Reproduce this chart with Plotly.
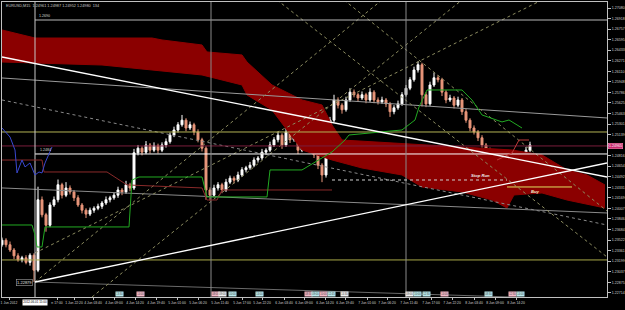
import plotly.graph_objects as go

# ---------------- data ----------------
bar_x = list(range(0, 529, 4))
open_first = 1.2345
close = [1.2352, 1.2345, 1.2337, 1.2328, 1.2322, 1.2325, 1.2318, 1.2329, 1.2306, 1.2414,
         1.2391, 1.2375, 1.2406, 1.2414, 1.2437, 1.2421, 1.2432, 1.2426, 1.2417, 1.2406,
         1.2398, 1.2392, 1.2398, 1.2401, 1.2404, 1.2409, 1.2414, 1.2417, 1.2421, 1.2429,
         1.2426, 1.2437, 1.2432, 1.2486, 1.2493, 1.2487, 1.2498, 1.2490, 1.2497, 1.2490,
         1.2498, 1.2503, 1.2513, 1.2521, 1.2529, 1.2536, 1.2524, 1.2529, 1.2518, 1.2506,
         1.2493, 1.2429, 1.2421, 1.2432, 1.2437, 1.2429, 1.2441, 1.2447, 1.2444, 1.2452,
         1.2460, 1.2463, 1.2467, 1.2475, 1.2478, 1.2487, 1.2490, 1.2498, 1.2506, 1.2513,
         1.2498, 1.2518, 1.2506, 1.2513, 1.2490, 1.2498, 1.2506, 1.2493, 1.2483, 1.2467,
         1.2452, 1.2490, 1.2536, 1.2567, 1.2559, 1.2552, 1.2567, 1.2579, 1.2575, 1.2570,
         1.2575, 1.2567, 1.2579, 1.2567, 1.2564, 1.2567, 1.2561, 1.2549, 1.2555, 1.2561,
         1.2575, 1.2585, 1.2598, 1.2613, 1.2621, 1.2575, 1.2561, 1.2590, 1.2601, 1.2598,
         1.2579, 1.2567, 1.2570, 1.2559, 1.2567, 1.2549, 1.2536, 1.2524, 1.2518, 1.2509,
         1.2498, 1.2490, 1.2475, 1.2478, 1.2463, 1.2472, 1.2460, 1.2475, 1.2457, 1.2463,
         1.2475, 1.2490, 1.2498]
wick_up_pips = [4,3,5,3,4,3,4,3,3,20, 5,3,4,5,8,3,9,4,3,4, 3,3,4,3,4,3,5,3,4,5,
                3,6,3,6,5,3,6,3,5,3, 4,5,4,5,4,8,3,5,3,4, 3,3,4,5,4,3,5,4,3,5,
                4,3,5,4,3,5,3,5,4,5, 3,6,3,5,3,4,5,3,3,4, 3,4,5,8,4,3,5,6,4,3,
                5,3,6,3,4,5,3,3,4,5, 4,5,4,5,5,3,4,5,8,4, 3,3,5,3,5,3,4,3,4,3,
                4,3,4,5,3,5,3,6,3,5, 6,5,5]
wick_dn_pips = [3,4,3,5,3,4,3,5,18,3, 4,10,3,3,4,5,3,4,5,3, 5,6,3,4,3,4,3,4,3,4,
                5,3,5,3,4,5,3,5,3,5, 3,4,3,3,4,3,5,3,5,4, 5,15,8,3,4,5,3,3,5,3,
                3,4,3,3,4,3,4,3,3,4, 6,3,5,3,6,3,3,5,5,6, 11,4,3,3,5,6,3,3,4,5,
                3,5,3,5,4,3,5,8,4,3, 3,3,3,3,4,18,5,3,3,4, 6,5,3,5,3,5,4,5,4,5,
                4,6,5,4,6,3,6,3,9,3, 3,3,3]

# Ichimoku cloud edges
cloud_top_x = [0, 33, 150, 160, 200, 205, 240, 245, 270, 300, 320, 330, 340, 420, 510, 540, 565, 585, 603]
cloud_top_y = [1.26743, 1.26620, 1.26620, 1.26590, 1.26513, 1.26406, 1.26360, 1.26252, 1.25900, 1.25670,
               1.25593, 1.25287, 1.25056, 1.24980, 1.24903, 1.24827, 1.24597, 1.24520, 1.24367]
cloud_bot_x = [0, 100, 200, 240, 245, 270, 300, 330, 360, 400, 420, 460, 490, 505, 512, 540, 565, 603]
cloud_bot_y = [1.26252, 1.26206, 1.26053, 1.25900, 1.25746, 1.25516, 1.24903, 1.24750, 1.24627, 1.24520,
               1.24336, 1.24260, 1.24136, 1.24014, 1.24213, 1.24244, 1.24136, 1.24014]

kijun_x = [0, 30, 33, 35, 40, 43, 127, 130, 137, 200, 205, 265, 268, 300, 330, 343, 347, 400, 413, 417,
           425, 460, 470, 480, 500, 507, 520]
kijun_y = [1.23753, 1.23753, 1.23600, 1.23416, 1.23416, 1.23723, 1.23723, 1.24443, 1.24489, 1.24489,
           1.24183, 1.24183, 1.24597, 1.24597, 1.24873, 1.25056, 1.25133, 1.25210, 1.25363, 1.25562,
           1.25823, 1.25823, 1.25670, 1.25440, 1.25333, 1.25363, 1.25240]

span_line_x = [0, 40, 42, 105, 125, 200, 205, 215, 220, 330]
span_line_y = [1.24749, 1.24749, 1.24566, 1.24566, 1.24367, 1.24321, 1.24136, 1.24136, 1.24290, 1.24290]

tenkan_x = [495, 510, 517, 527]
tenkan_y = [1.24749, 1.24857, 1.25056, 1.25056]

chikou_x = [0, 8, 13, 15, 20, 23, 28, 33, 37, 40, 43, 47, 50]
chikou_y = [1.25240, 1.25102, 1.24903, 1.24551, 1.24749, 1.24643, 1.24704, 1.24520, 1.24566, 1.24551,
            1.24704, 1.24857, 1.24949]

# horizontal levels: (start bar, price, colour)
levels = [(33, 1.26896, "#b8b8b8"), (33, 1.24842, "#ffffff"), (0, 1.25179, "#b4b454"),
          (0, 1.23217, "#a8a848"), (0, 1.24965, "#7a1e3c")]
stop_run_level = 1.24443
buy_level = 1.24336

# trend lines: (x0, p0, x1, p1, colour, dash)
trend_lines = [
    (0, 1.26007, 605, 1.25394, "#9a9a9a", "solid"),
    (0, 1.24321, 605, 1.23937, "#8a8a8a", "solid"),
    (33, 1.22879, 605, 1.22603, "#6a6a6a", "solid"),
    (0, 1.25670, 605, 1.23753, "#8a8a8a", "dot"),
    (33, 1.22879, 380, 1.27203, "#8c8c60", "dot"),
    (90, 1.22649, 460, 1.27203, "#8c8c60", "dot"),
    (33, 1.23324, 540, 1.27203, "#8c8c60", "dot"),
    (342, 1.27203, 605, 1.23968, "#8c8c60", "dot"),
    (275, 1.27203, 605, 1.23263, "#8c8c60", "dot"),
    (0, 1.26329, 605, 1.24489, "#ffffff", "solid"),
    (33, 1.22879, 605, 1.24704, "#ffffff", "solid"),
]
vlines = [(33, "#c8c8c8"), (209, "#8a8a8a"), (404, "#8a8a8a")]

price_ticks = [1.27080, 1.26918, 1.26757, 1.26595, 1.26433, 1.26271, 1.26110, 1.25948, 1.25786, 1.25625,
               1.25463, 1.25301, 1.25139, 1.24978, 1.24816, 1.24654, 1.24492, 1.24331, 1.24169, 1.24007,
               1.23846, 1.23684, 1.23522, 1.23361, 1.23199, 1.23037, 1.22875, 1.22714]
time_tick_x = [7, 55, 72, 91, 112, 133, 154, 175, 196, 218, 240, 260, 282, 302, 323, 343, 365, 385, 407,
               429, 450, 472, 493, 514]
time_tick_text = ["1 Jun 2012", "n 17:00", "1 Jun 22:20", "4 Jun 03:40", "4 Jun 09:00", "4 Jun 14:20",
                  "4 Jun 19:40", "5 Jun 01:00", "5 Jun 06:20", "5 Jun 11:40", "5 Jun 17:00", "5 Jun 22:20",
                  "6 Jun 03:40", "6 Jun 09:00", "6 Jun 14:20", "6 Jun 19:40", "7 Jun 01:00", "7 Jun 06:20",
                  "7 Jun 11:40", "7 Jun 17:00", "7 Jun 22:20", "8 Jun 03:40", "8 Jun 09:00", "8 Jun 14:20"]
event_x = [117, 138, 213, 220, 230, 257, 306, 313, 321, 329, 342, 407, 415, 424, 442, 486, 510, 518]
event_kind = ["c", "p", "p", "w", "c", "c", "p", "c", "p", "c", "w", "w", "c", "c", "p", "c", "p", "c"]
event_time = ["13:30", "14:00", "08:00", "09:00", "10:00", "14:00", "08:30", "09:00", "10:00", "12:45",
              "14:30", "09:00", "10:00", "12:30", "14:00", "08:30", "12:30", "14:00"]
current_price = 1.24965
low_price = 1.22879
header = "EURUSD,M15  1.24961 1.24987 1.24952 1.24980  134"

# ---------------- figure ----------------
fig = go.Figure()

def line(xs, ys, color, width=1.0, dash="solid"):
    fig.add_trace(go.Scatter(x=xs, y=ys, mode="lines", line=dict(color=color, width=width, dash=dash),
                             hoverinfo="skip", showlegend=False))

# cloud
fig.add_trace(go.Scatter(x=cloud_bot_x, y=cloud_bot_y, mode="lines", line=dict(color="#8b0000", width=1),
                         hoverinfo="skip", showlegend=False))
fig.add_trace(go.Scatter(x=cloud_top_x, y=cloud_top_y, mode="lines", line=dict(color="#8b0000", width=1),
                         fill="tonexty", fillcolor="#8b0000", hoverinfo="skip", showlegend=False))

for x0, p0, x1, p1, c, d in trend_lines[:9]:
    line([x0, x1], [p0, p1], c, 1, d)

for x0, p, c in levels:
    line([x0, 605], [p, p], c, 1)

for vx, c in vlines:
    line([vx, vx], [1.22649, 1.27172], c, 1)

line([330, 505], [stop_run_level, stop_run_level], "#d0d0d0", 1, "dot")
line([505, 570], [buy_level, buy_level], "#e0e060", 1)

line(span_line_x, span_line_y, "#8a2a2a", 1)
line(kijun_x, kijun_y, "#22aa22", 1)
line(tenkan_x, tenkan_y, "#c03a3a", 1)
line(chikou_x, chikou_y, "#3a48d0", 1)

for x0, p0, x1, p1, c, d in trend_lines[9:]:
    line([x0, x1], [p0, p1], c, 1.3, d)

opens = [open_first] + close[:-1]
highs = [max(o, c) + u * 0.0001 for o, c, u in zip(opens, close, wick_up_pips)]
lows = [min(o, c) - w * 0.0001 for o, c, w in zip(opens, close, wick_dn_pips)]
fig.add_trace(go.Candlestick(
    x=bar_x, open=opens, high=highs, low=lows, close=close,
    increasing=dict(line=dict(color="#ffffff", width=1), fillcolor="#ffffff"),
    decreasing=dict(line=dict(color="#e9967a", width=1), fillcolor="#e9967a"),
    whiskerwidth=0, hoverinfo="skip", showlegend=False))

ann = []
small = dict(family="Liberation Sans", size=3.6, color="#d8d8d8")
ann.append(dict(x=0.003, y=1.0, xref="paper", yref="paper", xanchor="left", yanchor="top",
                text=header, showarrow=False, font=dict(family="Liberation Sans", size=3.8, color="#c8c8c8")))
ann.append(dict(x=35, y=levels[0][1], xref="x", yref="y", xanchor="left", yanchor="bottom",
                text="1.2690", showarrow=False, font=small))
ann.append(dict(x=36, y=levels[1][1], xref="x", yref="y", xanchor="left", yanchor="bottom",
                text="1.2484", showarrow=False, font=small))
ann.append(dict(x=31, y=low_price, xref="x", yref="y", xanchor="right", yanchor="middle",
                text=f"{low_price:.5f}", showarrow=False, font=dict(family="Liberation Sans", size=4, color="#e0e0e0"),
                bordercolor="#a0a0a0", borderwidth=0.6, borderpad=0.5, bgcolor="#000000"))
ann.append(dict(x=478, y=stop_run_level, xref="x", yref="y", xanchor="center", yanchor="bottom",
                text="<b><i>Stop Run</i></b>", showarrow=False,
                font=dict(family="Liberation Sans", size=4.2, color="#f0f0f0")))
ann.append(dict(x=533, y=buy_level, xref="x", yref="y", xanchor="center", yanchor="top",
                text="<b><i>Buy</i></b>", showarrow=False,
                font=dict(family="Liberation Sans", size=4.2, color="#f0f0d0")))
ann.append(dict(x=1.0, y=current_price, xref="paper", yref="y", xanchor="left", yanchor="middle",
                text=f"{current_price:.5f}", showarrow=False, xshift=1,
                font=dict(family="Liberation Sans", size=3.6, color="#ffffff"),
                bgcolor="#c8286e", bordercolor="#ff80b0", borderwidth=0.6, borderpad=0.5))
ann.append(dict(x=33, y=0, xref="x", yref="paper", xanchor="center", yanchor="top", yshift=-2,
                text="2012.06.01 15:00", showarrow=False,
                font=dict(family="Liberation Sans", size=3.0, color="#000000"), bgcolor="#ffffff", borderpad=0.3))
colors = {"p": "#f4b8c8", "c": "#b8e8ec", "w": "#f0f0f0"}
for ex, k, t in zip(event_x, event_kind, event_time):
    ann.append(dict(x=ex, y=0, xref="x", yref="paper", xanchor="center", yanchor="bottom", yshift=0.5,
                    text=t, showarrow=False, bgcolor=colors[k], borderpad=0.2,
                    font=dict(family="Liberation Sans", size=2.6, color="#404040")))

# the current-price marker sits where the 1.24978 label would be, so that label is left blank
tick_text = ["" if abs(p - current_price) < 0.0003 else f"{p:.5f}" for p in price_ticks]

fig.update_layout(
    width=625, height=310, margin=dict(l=2, r=18, t=2, b=13),
    paper_bgcolor="#000000", plot_bgcolor="#000000", showlegend=False,
    annotations=ann,
    xaxis=dict(range=[0, 605], showgrid=False, zeroline=False, showline=True, linecolor="#c0c0c0",
               linewidth=1, mirror=True, tickvals=time_tick_x, ticktext=time_tick_text, tickangle=0,
               tickfont=dict(family="Liberation Sans", size=3.4, color="#d0d0d0"),
               ticks="outside", ticklen=2, tickcolor="#c0c0c0", automargin=False,
               rangeslider=dict(visible=False), fixedrange=True),
    yaxis=dict(range=[1.22649, 1.27172], side="right", showgrid=False, zeroline=False, showline=True,
               linecolor="#c0c0c0", linewidth=1, mirror=True, tickvals=price_ticks,
               ticktext=tick_text,
               tickfont=dict(family="Liberation Sans", size=3.6, color="#d0d0d0"),
               ticks="outside", ticklen=3, tickcolor="#c0c0c0", automargin=False, fixedrange=True),
)

fig.write_html("out.html")
